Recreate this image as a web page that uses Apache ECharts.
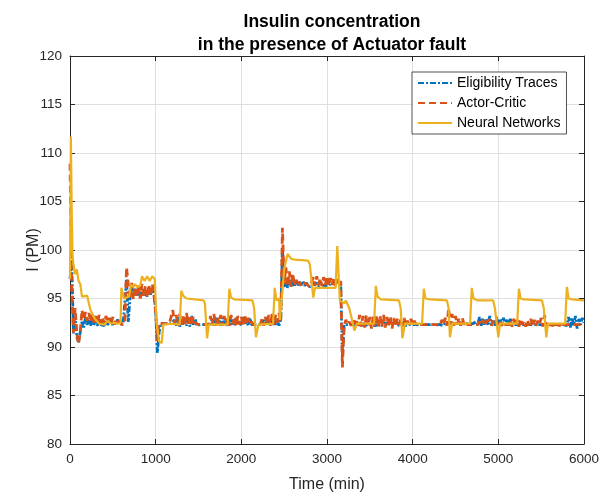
<!DOCTYPE html>
<html>
<head>
<meta charset="utf-8">
<script src="https://cdn.jsdelivr.net/npm/echarts@6/dist/echarts.min.js"></script>
<style>
html,body{margin:0;padding:0;background:#fff;}
#chart{width:609px;height:499px;}
</style>
</head>
<body>
<div id="chart"></div>
<script>
// ---- data ----
var titleText = 'Insulin concentration\nin the presence of Actuator fault';
var xName = 'Time (min)';
var yName = 'I (PM)';
var seriesNames = ['Eligibility Traces', 'Actor-Critic', 'Neural Networks'];
var xTicks = [0, 1000, 2000, 3000, 4000, 5000, 6000];
var yTicks = [80, 85, 90, 95, 100, 105, 110, 115, 120];

// sampled every 20 min, from 0 to 6000
var sampleStep = 20;
var etValues = [
  97.0, 99.0, 91.4, 93.2, 91.0, 90.5, 90.4, 92.6, 92.0, 93.0,
  92.3, 92.8, 92.2, 93.1, 92.3, 92.6, 92.2, 92.9, 92.3, 92.5,
  92.2, 92.8, 92.3, 92.4, 92.9, 92.2, 92.5, 92.3, 92.8, 92.3,
  92.3, 92.4, 92.4, 97.0, 92.6, 95.0, 96.2, 95.4, 96.0, 95.2,
  95.8, 95.1, 96.0, 95.3, 95.9, 95.2, 96.1, 95.4, 95.9, 95.6,
  93.8, 89.4, 91.5, 92.4, 92.3, 92.4, 92.3, 92.4, 92.3, 92.4,
  92.3, 92.8, 92.2, 93.1, 92.1, 92.9, 92.3, 93.0, 92.2, 92.8,
  92.1, 93.2, 92.3, 92.9, 92.2, 92.4, 92.3, 92.4, 92.3, 92.4,
  92.3, 92.4, 92.3, 92.9, 92.2, 93.1, 92.3, 92.8, 92.2, 93.0,
  92.3, 92.7, 92.2, 93.2, 92.3, 92.8, 92.2, 93.0, 92.3, 92.6,
  92.2, 93.1, 92.3, 92.8, 92.2, 93.0, 92.3, 92.5, 92.3, 92.4,
  92.3, 92.4, 92.3, 92.8, 92.2, 92.6, 92.3, 92.9, 92.2, 92.7,
  92.3, 92.8, 92.2, 92.9, 100.2, 96.2, 97.0, 96.1, 96.9, 96.3,
  96.8, 96.2, 96.9, 96.3, 96.7, 96.4, 96.8, 96.3, 96.6, 96.4,
  96.2, 96.0, 96.5, 96.4, 96.6, 96.3, 96.5, 96.4, 96.6, 96.3,
  96.5, 96.3, 96.6, 96.4, 96.5, 96.3, 96.6, 96.4, 96.5, 89.0,
  92.3, 92.4, 92.3, 92.4, 92.3, 92.4, 92.3, 92.4, 92.3, 92.5,
  92.2, 92.4, 92.3, 92.5, 92.2, 92.4, 92.3, 92.4, 92.2, 92.4,
  92.3, 92.4, 92.2, 92.5, 92.3, 92.4, 92.2, 92.5, 92.3, 92.4,
  92.3, 92.5, 92.2, 92.4, 92.3, 92.6, 92.2, 92.4, 92.3, 92.5,
  92.3, 92.4, 92.3, 92.4, 92.3, 92.4, 92.3, 92.4, 92.3, 92.4,
  92.3, 92.4, 92.3, 92.4, 92.3, 92.5, 92.3, 92.4, 92.2, 92.5,
  92.3, 92.4, 92.2, 92.5, 92.3, 92.4, 92.2, 92.5, 92.3, 92.4,
  92.3, 92.4, 92.3, 92.4, 92.3, 92.4, 92.2, 92.6, 92.3, 93.1,
  92.2, 93.0, 92.3, 92.9, 92.2, 93.2, 92.3, 92.8, 92.2, 93.1,
  92.3, 92.9, 92.2, 93.0, 92.3, 92.8, 92.2, 92.9, 92.3, 92.5,
  92.3, 92.4, 92.3, 92.4, 92.3, 92.4, 92.3, 92.4, 92.3, 92.4,
  92.3, 92.4, 92.3, 92.4, 92.3, 92.4, 92.3, 92.4, 92.3, 92.4,
  92.3, 92.4, 92.3, 92.4, 92.3, 92.4, 92.3, 92.4, 92.3, 92.5,
  92.2, 93.1, 92.0, 93.0, 92.2, 93.2, 91.9, 92.9, 92.3, 93.0,
  92.5
];
var acValues = [
  108.9, 96.0, 91.5, 94.0, 91.4, 90.3, 91.6, 93.8, 92.8, 93.6,
  92.7, 93.5, 92.6, 93.4, 92.5, 93.2, 92.4, 93.3, 92.5, 93.1,
  92.4, 93.2, 92.5, 93.0, 92.4, 93.1, 92.3, 92.9, 92.4, 93.0,
  92.3, 92.5, 92.4, 98.2, 96.5, 95.0, 96.6, 94.9, 96.2, 95.1,
  96.4, 95.0, 96.5, 95.2, 96.3, 95.1, 96.4, 95.3, 96.5, 95.4,
  93.5, 90.6, 92.5, 92.3, 92.4, 92.3, 92.4, 92.3, 92.4, 92.3,
  93.8, 92.4, 93.3, 92.2, 93.4, 92.3, 93.2, 92.2, 93.5, 92.4,
  93.3, 92.2, 93.1, 92.5, 92.4, 92.3, 92.4, 92.3, 92.4, 92.3,
  92.4, 92.3, 93.2, 92.3, 93.4, 92.2, 93.1, 92.4, 93.3, 92.2,
  93.2, 92.3, 93.0, 92.2, 93.3, 92.4, 93.1, 92.2, 93.2, 92.3,
  93.1, 92.2, 93.3, 92.4, 93.0, 92.3, 92.6, 92.3, 92.4, 92.3,
  92.4, 92.3, 92.9, 92.2, 93.1, 92.4, 93.3, 92.2, 93.4, 92.3,
  93.3, 92.5, 93.5, 92.6, 102.3, 96.5, 98.2, 96.3, 97.8, 96.2,
  97.6, 96.3, 96.9, 96.4, 96.7, 96.3, 96.6, 96.4, 96.5, 96.3,
  96.2, 96.0, 97.2, 96.3, 97.3, 96.4, 97.1, 96.3, 97.2, 96.4,
  97.3, 96.3, 97.1, 96.4, 97.2, 96.3, 97.0, 96.4, 96.8, 87.9,
  92.2, 92.8, 92.3, 92.6, 92.2, 92.7, 92.4, 92.9, 92.2, 93.3,
  92.1, 93.2, 92.0, 93.3, 92.2, 93.1, 91.9, 93.2, 92.1, 93.3,
  92.0, 93.2, 92.1, 93.3, 92.0, 93.1, 92.2, 93.2, 91.9, 93.0,
  92.1, 92.9, 92.3, 92.8, 92.1, 93.0, 92.2, 92.7, 92.3, 92.9,
  92.2, 92.7, 92.3, 92.5, 92.3, 92.4, 92.3, 92.4, 92.3, 92.4,
  92.3, 92.4, 92.3, 92.4, 92.3, 92.5, 92.2, 92.8, 92.3, 93.0,
  92.2, 94.0, 92.3, 93.4, 92.2, 93.2, 92.3, 92.9, 92.2, 93.0,
  92.3, 92.6, 92.3, 92.4, 92.3, 92.4, 92.3, 92.5, 92.3, 92.6,
  92.3, 92.8, 92.2, 92.6, 92.4, 92.8, 92.2, 92.7, 92.3, 92.6,
  92.3, 92.7, 92.2, 92.6, 92.3, 92.5, 92.3, 92.8, 92.1, 92.9,
  92.2, 92.8, 92.1, 92.9, 92.3, 92.7, 92.1, 92.8, 92.2, 92.9,
  92.1, 92.8, 92.2, 92.7, 92.3, 93.0, 92.1, 93.3, 92.2, 92.6,
  92.3, 92.5, 92.2, 92.6, 92.3, 92.5, 92.2, 92.6, 92.3, 92.5,
  92.3, 92.5, 92.3, 92.4, 92.3, 92.5, 92.3, 92.4, 92.3, 92.5,
  92.4
];
var nnTime = [
  0, 10, 20, 30, 40, 60, 80, 100, 120, 140, 160, 200, 220, 240, 270, 300, 340,
  360, 400, 440, 480, 520, 560, 590, 600, 630, 690, 710, 740, 760, 780, 800, 820,
  840, 870, 900, 930, 960, 990, 1000, 1010, 1040, 1070, 1090, 1180, 1280,
  1300, 1320, 1360, 1560, 1575, 1600, 1620, 1840, 1860, 1880, 1920, 2130, 2150,
  2170, 2200, 2370, 2390, 2410, 2440, 2450, 2480, 2500, 2540, 2580, 2620, 2780,
  2800, 2840, 2860, 3100, 3120, 3130, 3150, 3200, 3220, 3260, 3300, 3320, 3350,
  3550, 3570, 3590, 3630, 3840, 3860, 3880, 3910, 4110, 4130, 4150, 4200, 4400,
  4420, 4435, 4460, 4670, 4690, 4710, 4760, 4940, 4960, 5000, 5020, 5220, 5240,
  5260, 5300, 5510, 5530, 5560, 5580, 5780, 5800, 5820, 5860, 6000
];
var nnValues = [
  97.0, 111.7, 104.0, 99.5, 98.5, 97.5, 98.0, 96.8, 96.5, 95.2, 95.4, 95.3, 94.5, 93.8, 93.2, 92.8, 92.4,
  92.6, 92.3, 92.7, 92.4, 92.5, 92.4, 92.5, 96.1, 95.0, 95.2, 96.4, 96.2, 96.5, 96.2, 96.4, 96.3,
  97.3, 96.8, 97.3, 96.8, 97.3, 97.0, 96.8, 92.5, 90.6, 90.4, 92.3, 92.4, 92.3,
  95.8, 95.3, 95.0, 94.8, 94.5, 90.9, 92.3, 92.3, 96.0, 95.1, 94.9, 94.8, 94.0,
  91.0, 92.3, 92.4, 96.1, 94.8, 95.0, 92.8, 95.8, 98.0, 99.6, 99.1, 99.0, 98.9,
  98.5, 95.1, 96.1, 96.1, 100.4, 100.2, 94.8, 94.5, 94.8, 94.0, 92.5, 91.7, 92.4,
  92.4, 96.3, 95.2, 94.9, 94.8, 94.0, 90.9, 92.4, 92.4, 96.0, 95.0, 94.9, 94.8,
  94.0, 91.0, 92.4, 92.4, 96.1, 95.0, 94.8, 94.8, 94.0, 91.0, 92.4, 92.4, 96.0,
  95.0, 94.9, 94.8, 94.0, 91.0, 92.4, 92.4, 96.2, 95.0, 94.9, 94.8
];

// ---- build ----
function sampled(vals) {
  var out = [];
  for (var i = 0; i < vals.length; i++) out.push([i * sampleStep, vals[i]]);
  return out;
}
var nnData = nnTime.map(function (t, i) { return [t, nnValues[i]]; });

var axisColor = '#262626';
var gridColor = '#dfdfdf';
var font = 'Liberation Sans, Arial, Helvetica, sans-serif';
function plain(v) { return String(v); }

function xAx(pos, labels) {
  return {
    type: 'value', position: pos, min: xTicks[0], max: xTicks[xTicks.length - 1], interval: 1000,
    name: labels ? xName : '', nameLocation: 'middle', nameGap: 33, nameMoveOverlap: false,
    nameTextStyle: { fontSize: 16, color: axisColor, fontFamily: font },
    axisLine: { show: true, onZero: false, lineStyle: { color: axisColor, width: 1 } },
    axisTick: { show: true, inside: true, length: 5, lineStyle: { color: axisColor } },
    axisLabel: { show: labels, margin: 8, fontSize: 13.5, color: axisColor, fontFamily: font, formatter: plain },
    splitLine: { show: labels, lineStyle: { color: gridColor, width: 1 } }
  };
}
function yAx(pos, labels) {
  return {
    type: 'value', position: pos, min: yTicks[0], max: yTicks[yTicks.length - 1], interval: 5,
    name: labels ? yName : '', nameLocation: 'middle', nameGap: 28, nameRotate: 90, nameMoveOverlap: false,
    nameTextStyle: { fontSize: 16, color: axisColor, fontFamily: font },
    axisLine: { show: true, onZero: false, lineStyle: { color: axisColor, width: 1 } },
    axisTick: { show: true, inside: true, length: 5, lineStyle: { color: axisColor } },
    axisLabel: { show: labels, margin: 8, fontSize: 13.5, color: axisColor, fontFamily: font, formatter: plain },
    splitLine: { show: labels, lineStyle: { color: gridColor, width: 1 } }
  };
}

var chart = echarts.init(document.getElementById('chart'), null, { renderer: 'canvas' });
chart.setOption({
  backgroundColor: '#ffffff',
  animation: false,
  title: {
    text: titleText, left: 327, top: 6, textAlign: 'center',
    textStyle: { fontSize: 17.5, fontWeight: 'bold', color: '#000', fontFamily: font, lineHeight: 23 }
  },
  grid: { left: 70, right: 25, top: 56, bottom: 55, containLabel: false },
  xAxis: [xAx('bottom', true), xAx('top', false)],
  yAxis: [yAx('left', true), yAx('right', false)],
  legend: {
    orient: 'vertical', left: 412, top: 72,
    itemWidth: 34, itemHeight: 14, itemGap: 6,
    padding: [4, 6, 4, 5],
    borderColor: axisColor, borderWidth: 0.8, backgroundColor: '#fff',
    itemStyle: { opacity: 0 },
    textStyle: { fontSize: 14, color: '#000', fontFamily: font },
    data: seriesNames
  },
  series: [
    { name: seriesNames[0], type: 'line', data: sampled(etValues), showSymbol: false, symbol: 'none',
      color: '#0072BD', lineStyle: { width: 2.8, type: [6, 2, 2, 2], color: '#0072BD' } },
    { name: seriesNames[1], type: 'line', data: sampled(acValues), showSymbol: false, symbol: 'none',
      color: '#D95319', lineStyle: { width: 2.8, type: [7, 4], color: '#D95319' } },
    { name: seriesNames[2], type: 'line', data: nnData, showSymbol: false, symbol: 'none',
      color: '#EDB120', lineStyle: { width: 2.2, type: 'solid', color: '#EDB120' } }
  ]
});
</script>
</body>
</html>
